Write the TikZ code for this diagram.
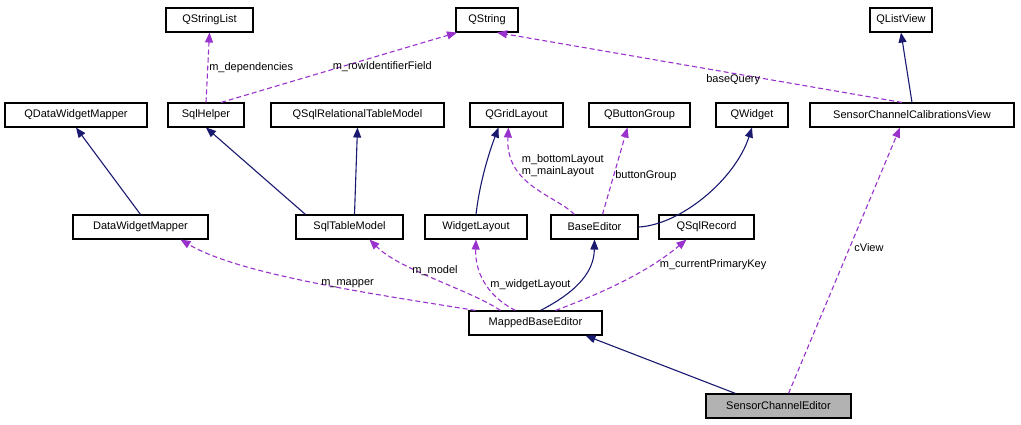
\documentclass[tikz,border=0pt]{standalone}
\usepackage{fontspec}
\setmainfont{Liberation Sans}
\usetikzlibrary{arrows.meta}
\definecolor{navy}{RGB}{25,25,112}
\definecolor{dpurple}{RGB}{153,50,204}
\begin{document}
\begin{tikzpicture}[x=1pt,y=-1pt,
  box/.style={draw,line width=1.1pt,fill=white,minimum height=24pt,inner sep=0pt,font=\fontsize{11}{12}\selectfont},
  inh/.style={navy,line width=1.1pt,-{Triangle[length=10pt,width=8pt]}},
  use/.style={dpurple,line width=1.1pt,dash pattern=on 5pt off 3pt,-{Triangle[length=10pt,width=8pt]}},
  lab/.style={font=\fontsize{11}{12}\selectfont,black,inner sep=1pt,align=left}]
\useasboundingbox (0,0) rectangle (1021,424);
\node[box,minimum width=87pt] (qsl) at (209.5,20) {QStringList};
\node[box,minimum width=62pt] (qs) at (487,20) {QString};
\node[box,minimum width=62pt] (qlv) at (901,20) {QListView};
\node[box,minimum width=142pt] (qdwm) at (76,115) {QDataWidgetMapper};
\node[box,minimum width=76pt] (sh) at (206,115) {SqlHelper};
\node[box,minimum width=173pt] (qsrtm) at (357.5,115) {QSqlRelationalTableModel};
\node[box,minimum width=93pt] (qgl) at (516.5,115) {QGridLayout};
\node[box,minimum width=101pt] (qbg) at (639.5,115) {QButtonGroup};
\node[box,minimum width=72pt] (qw) at (752,115) {QWidget};
\node[box,minimum width=204pt] (sccv) at (912,115) {SensorChannelCalibrationsView};
\node[box,minimum width=135pt] (dwm) at (140.5,227) {DataWidgetMapper};
\node[box,minimum width=107pt] (stm) at (349.5,227) {SqlTableModel};
\node[box,minimum width=102pt] (wl) at (476,227) {WidgetLayout};
\node[box,minimum width=87pt] (be) at (594.5,227) {BaseEditor};
\node[box,minimum width=95pt] (qsr) at (706.5,227) {QSqlRecord};
\node[box,minimum width=133pt] (mbe) at (535.5,323) {MappedBaseEditor};
\node[box,minimum width=145pt,fill=black!30] (sce) at (778.5,406) {SensorChannelEditor};

\draw[inh] ([xshift=10pt]stm.north west) -- (sh.south);
\draw[inh] (dwm.north) -- (qdwm.south);
\draw[inh] ([xshift=5pt]stm.north) -- (qsrtm.south);
\draw[inh] (wl.north) .. controls (480,180) and (490,150) .. ([xshift=-18pt]qgl.south);
\draw[inh] (be.east) .. controls (680,225) and (735,180) .. (qw.south);
\draw[inh] ([xshift=5pt]mbe.north) .. controls (580,290) and (594,270) .. (be.south);
\draw[inh] ([xshift=30pt]sce.north west) -- ([xshift=50pt]mbe.south);
\draw[inh] (sccv.north) -- (qlv.south);

\draw[use] (sh.north) -- node[lab,right,pos=0.5]{m\_dependencies} (qsl.south);
\draw[use] ([xshift=15pt]sh.north) -- node[lab,pos=0.45,anchor=south west,xshift=4pt,yshift=-2pt]{m\_rowIdentifierField} ([xshift=-30pt]qs.south);
\draw[use] ([xshift=-10pt]sccv.north) -- node[lab,pos=0.45,anchor=north west,xshift=-15pt,yshift=-2pt]{baseQuery} ([xshift=10pt]qs.south);
\draw[use] ([xshift=-20pt]be.north) .. controls (555,195) and (505,185) .. node[lab,pos=0.72,right=4pt]{m\_bottomLayout\\m\_mainLayout} ([xshift=-8pt]qgl.south);
\draw[use] ([xshift=8pt]be.north) -- node[lab,right,pos=0.45]{buttonGroup} ([xshift=-12pt]qbg.south);
\draw[use] ([xshift=-60pt]mbe.north) .. controls (380,295) and (240,275) .. node[lab,pos=0.4,above]{m\_mapper} ([xshift=40pt]dwm.south);
\draw[use] ([xshift=-35pt]mbe.north) .. controls (470,290) and (400,270) .. node[lab,pos=0.5,above=2pt]{m\_model} ([xshift=20pt]stm.south);
\draw[use] ([xshift=-20pt]mbe.north) .. controls (485,295) and (475,270) .. node[lab,pos=0.45,right=3pt]{m\_widgetLayout} (wl.south);
\draw[use] ([xshift=20pt]mbe.north) .. controls (610,290) and (650,270) .. node[lab,pos=0.7,right=6pt]{m\_currentPrimaryKey} ([xshift=-20pt]qsr.south);
\draw[use] ([xshift=10pt]sce.north) -- node[lab,pos=0.55,right=3pt]{cView} ([xshift=-12pt]sccv.south);
\end{tikzpicture}
\end{document}
